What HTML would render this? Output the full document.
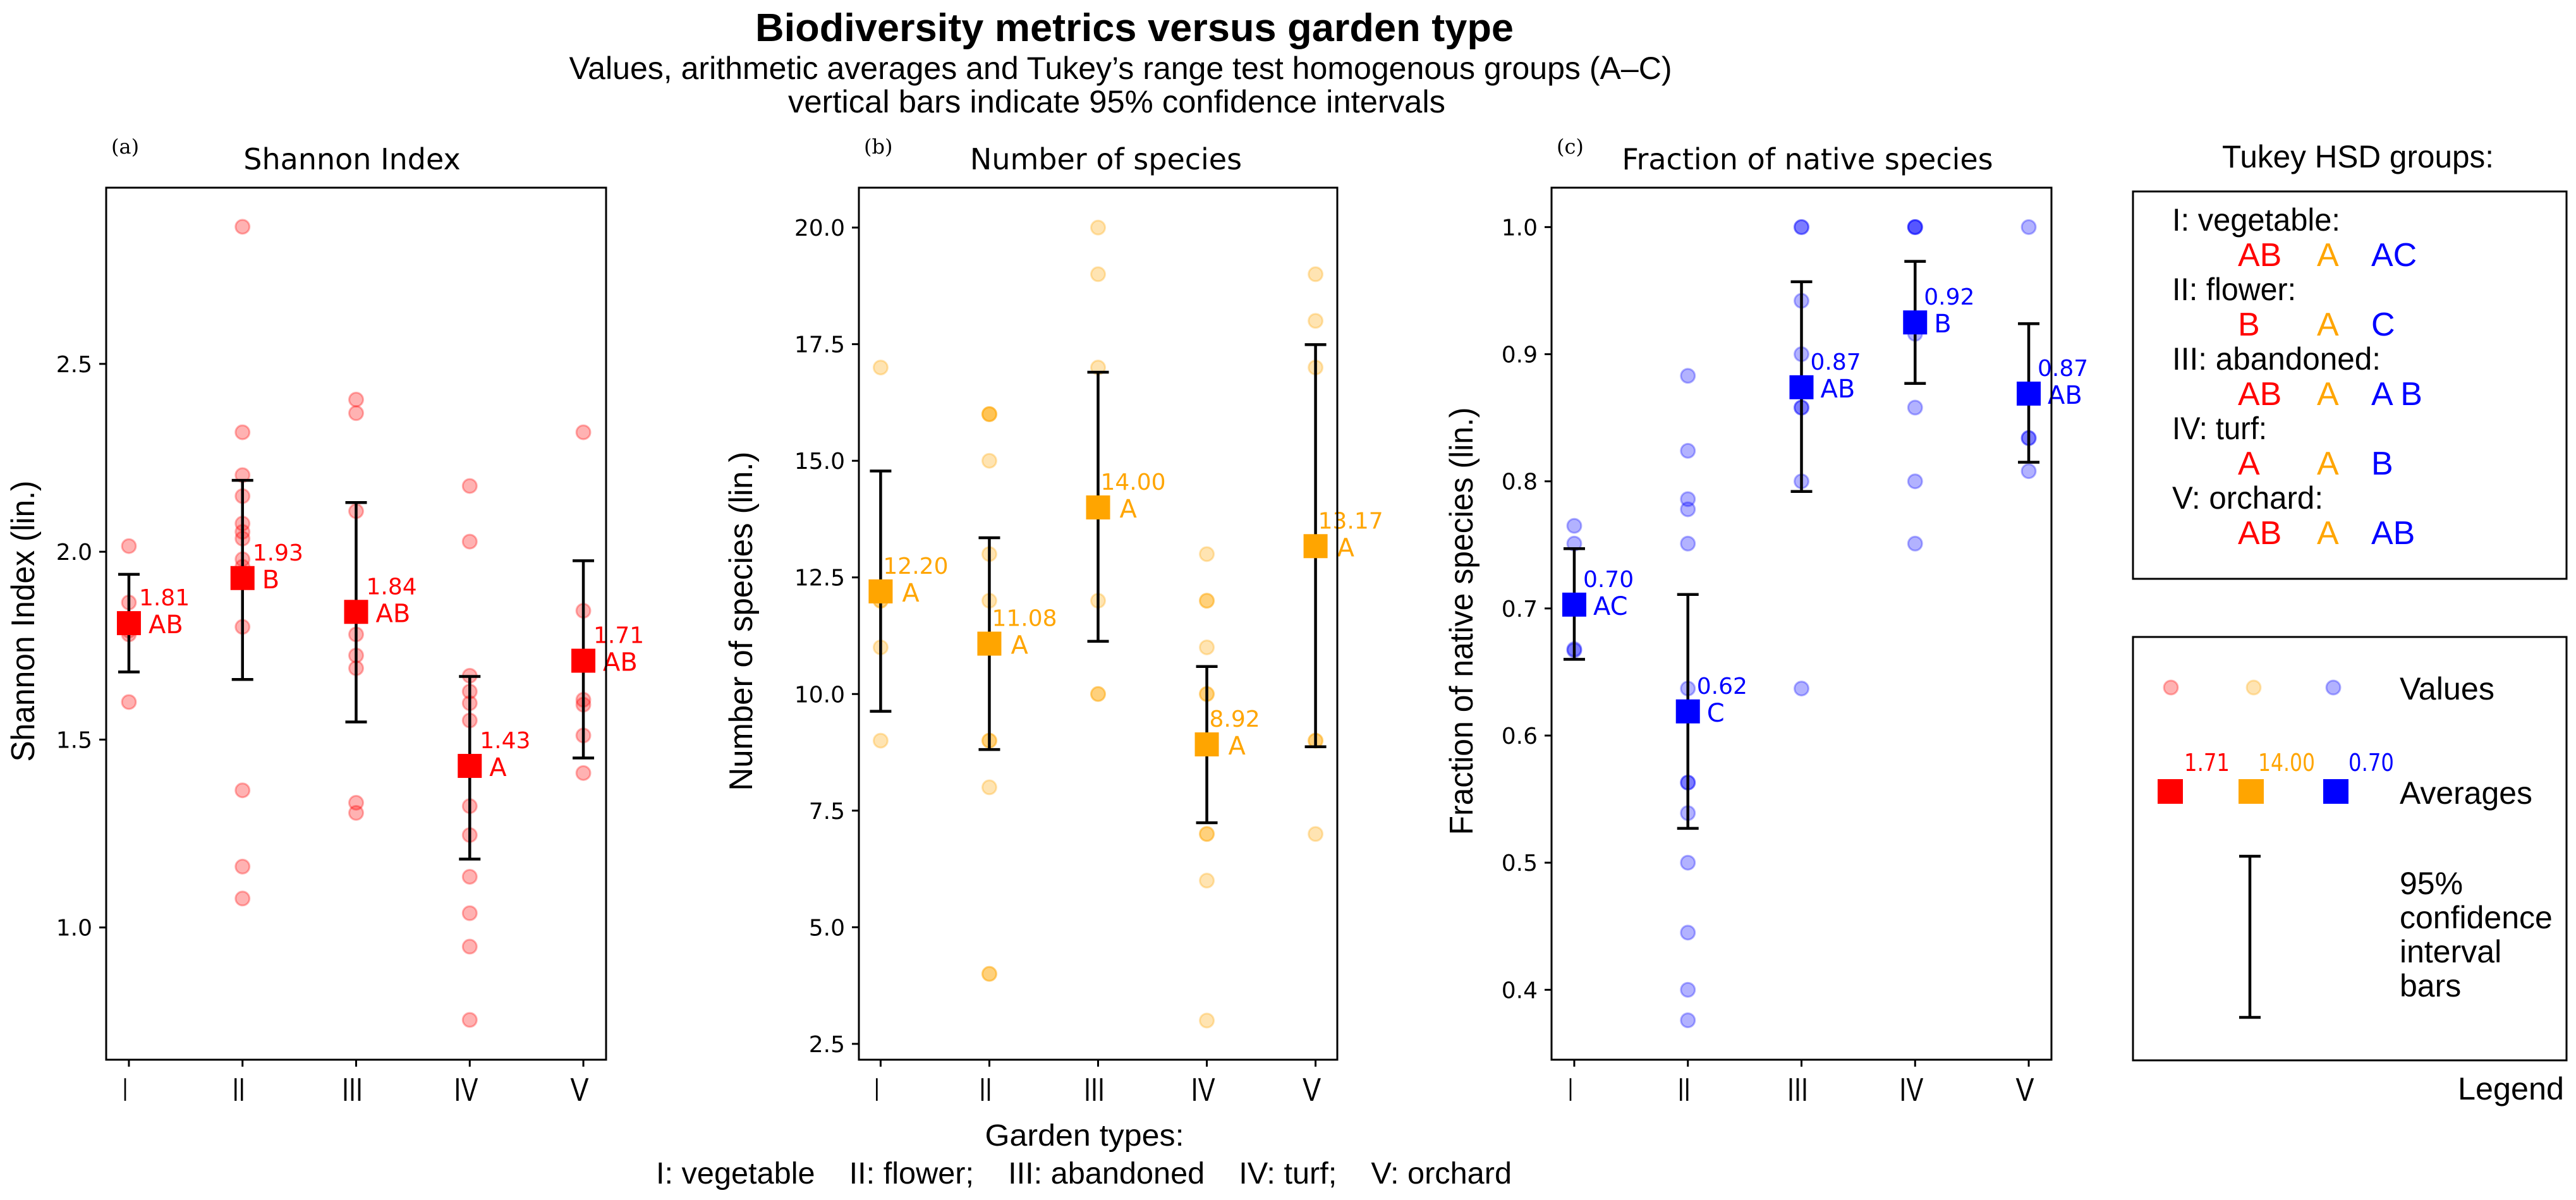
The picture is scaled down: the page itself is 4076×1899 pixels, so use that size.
<!DOCTYPE html>
<html><head><meta charset="utf-8"><style>
html,body{margin:0;padding:0;background:#fff;}
svg{display:block;}
</style></head><body>
<svg id="fig" xmlns="http://www.w3.org/2000/svg" width="4076" height="1899" viewBox="0 0 4076 1899">
<rect x="0" y="0" width="4076" height="1899" fill="#fff"/>
<g font-family="Liberation Sans, sans-serif" fill="#000">
<text x="1795" y="65" font-size="62" font-weight="bold" text-anchor="middle" textLength="1200" lengthAdjust="spacingAndGlyphs">Biodiversity metrics versus garden type</text>
<text x="1773" y="125" font-size="50" text-anchor="middle" textLength="1745" lengthAdjust="spacingAndGlyphs">Values, arithmetic averages and Tukey’s range test homogenous groups (A–C)</text>
<text x="1767" y="178" font-size="50" text-anchor="middle" textLength="1040" lengthAdjust="spacingAndGlyphs">vertical bars indicate 95% confidence intervals</text>
<text x="1716" y="1813" font-size="48" text-anchor="middle" textLength="315" lengthAdjust="spacingAndGlyphs">Garden types:</text>
<text x="1715" y="1873" font-size="48" text-anchor="middle" textLength="1354" lengthAdjust="spacingAndGlyphs" style="white-space:pre" xml:space="preserve">I: vegetable    II: flower;    III: abandoned    IV: turf;    V: orchard</text>
</g>
<g id="panels"></g>
<g id="legend" font-family="Liberation Sans, sans-serif">
<text x="3731" y="265" font-size="50" text-anchor="middle" textLength="430" lengthAdjust="spacingAndGlyphs">Tukey HSD groups:</text>
<rect x="3375" y="303" width="686" height="613" fill="none" stroke="#000" stroke-width="3"/>
<rect x="3375" y="1008" width="686" height="670" fill="none" stroke="#000" stroke-width="3"/>
<text x="4057" y="1740" font-size="50" text-anchor="end" textLength="168" lengthAdjust="spacingAndGlyphs">Legend</text>
</g>
</svg>
<script>
// ---- data ----
const categories = ['I','II','III','IV','V'];
const shannonValues = [
  [2.015,1.865,1.79,1.78,1.60],
  [2.865,2.318,2.204,2.148,2.075,2.053,2.035,1.98,1.96,1.80,1.365,1.162,1.077],
  [2.405,2.369,2.108,1.78,1.724,1.69,1.332,1.305],
  [2.175,2.027,1.67,1.628,1.597,1.551,1.323,1.246,1.135,1.038,0.949,0.754],
  [2.318,1.843,1.606,1.593,1.511,1.411]
];
const shannonMeans = [1.81,1.93,1.84,1.43,1.71];
const shannonCiLow = [1.68,1.66,1.547,1.182,1.451];
const shannonCiHigh = [1.94,2.19,2.131,1.668,1.976];
const shannonGroups = ['AB','B','AB','A','AB'];
const shannonTicks = ['1.0','1.5','2.0','2.5'];

const speciesValues = [
  [17,12,12,11,9],
  [16,16,16,15,13,12,9,9,8,4,4],
  [20,19,17,14,12,10,10],
  [13,12,12,11,10,10,9,7,7,6,3],
  [19,18,17,9,9,7]
];
const speciesMeans = [12.20,11.08,14.00,8.92,13.17];
const speciesCiLow = [9.63,8.81,11.13,7.24,8.87];
const speciesCiHigh = [14.78,13.35,16.9,10.59,17.49];
const speciesGroups = ['A','A','A','A','A'];
const speciesTicks = ['2.5','5.0','7.5','10.0','12.5','15.0','17.5','20.0'];

const nativeValues = [
  [0.765,0.751,0.668,0.667],
  [0.883,0.824,0.786,0.778,0.751,0.637,0.563,0.563,0.539,0.5,0.445,0.40,0.376],
  [1.0,1.0,0.942,0.90,0.858,0.858,0.80,0.637],
  [1.0,1.0,1.0,0.916,0.858,0.80,0.751],
  [1.0,0.834,0.834,0.808]
];
const nativeMeans = [0.70,0.62,0.87,0.92,0.87];
const nativeMeansPos = [0.703,0.619,0.874,0.925,0.869];
const nativeCiLow = [0.66,0.527,0.792,0.877,0.815];
const nativeCiHigh = [0.747,0.711,0.957,0.973,0.924];
const nativeGroups = ['AC','C','AB','B','AB'];
const nativeTicks = ['0.4','0.5','0.6','0.7','0.8','0.9','1.0'];

const tukeyLabels = ['I: vegetable:','II: flower:','III: abandoned:','IV: turf:','V: orchard:'];
const tukeyRed = ['AB','B','AB','A','AB'];
const tukeyOrange = ['A','A','A','A','A'];
const tukeyBlue = ['AC','C','A B','B','AB'];

// ---- drawing ----
const NS='http://www.w3.org/2000/svg';
function mk(tag, attrs, parent){
  const e=document.createElementNS(NS,tag);
  for(const k in attrs) e.setAttribute(k,attrs[k]);
  parent.appendChild(e); return e;
}
const root=document.getElementById('panels');
const romanWidth={'I':8,'II':20,'III':33,'IV':38,'V':29};

function panel(cfg){
  const g=mk('g',{},root);
  
  
  const L=cfg.left,R=cfg.right,T=297,B=1677;
  const xs=v=>L+(v+0.2)/4.4*(R-L);
  const ys=v=>B-(v-cfg.ymin)/(cfg.ymax-cfg.ymin)*(B-T);
  cfg.ticks.forEach(t=>{
    const y=ys(parseFloat(t));
    const tk=mk('line',{x1:L-11,x2:L,y1:y,y2:y,stroke:'#000','stroke-width':3},g);
    
    
    const tx=mk('text',{x:L-22,y:y+13,'font-size':36,'font-family':'DejaVu Sans, sans-serif','text-anchor':'end'},g);
    
    
    tx.textContent=t;
  });
  categories.forEach((c,i)=>{
    const x=xs(i);
    const tk=mk('line',{x1:x,x2:x,y1:B,y2:B+11,stroke:'#000','stroke-width':3},g);
    
    
    const tx=mk('text',{x:x-6,y:1742,'font-size':52,'font-family':'Liberation Sans, sans-serif','text-anchor':'middle',textLength:romanWidth[c],lengthAdjust:'spacingAndGlyphs'},g);
    
    
    tx.textContent=c;
  });
  cfg.values.forEach((arr,i)=>{
    arr.forEach(v=>{
      const p=mk('circle',{cx:xs(i),cy:ys(v),r:11,fill:cfg.color,'fill-opacity':0.3,stroke:cfg.color,'stroke-opacity':0.3,'stroke-width':3},g);
      
      
    });
  });
  categories.forEach((c,i)=>{
    const x=xs(i),y1=ys(cfg.lo[i]),y2=ys(cfg.hi[i]);
    const eb=mk('path',{d:`M${x},${y1}V${y2}M${x-17},${y1}H${x+17}M${x-17},${y2}H${x+17}`,stroke:'#000','stroke-width':4.5,fill:'none'},g);
    
    
  });
  categories.forEach((c,i)=>{
    const x=xs(i),y=ys(cfg.meanPos[i]);
    const sq=mk('rect',{x:x-19,y:y-19,width:38,height:38,fill:cfg.color},g);
    
    
    const t1=mk('text',{x:x+cfg.numDx,y:y-28,'font-size':36,'font-family':'DejaVu Sans, sans-serif',fill:cfg.color},g);
    
    
    t1.textContent=cfg.means[i].toFixed(2);
    const t2=mk('text',{x:x+cfg.grpDx,y:y+16,'font-size':40,'font-family':'DejaVu Sans, sans-serif',fill:cfg.color},g);
    
    
    t2.textContent=cfg.groups[i];
  });
  const fr=mk('rect',{x:L,y:T,width:R-L,height:B-T,fill:'none',stroke:'#000','stroke-width':3},g);
  
  
  const tt=mk('text',{x:cfg.titleX,y:268,'font-size':46,'font-family':'DejaVu Sans, sans-serif','text-anchor':'middle'},g);
  
  
  tt.textContent=cfg.title;
  const tl=mk('text',{x:L+8,y:243,'font-size':32,'font-family':'DejaVu Serif, serif'},g);
  
  
  tl.textContent=cfg.letter;
  const yl=mk('text',{x:0,y:0,'font-size':52,'font-family':'Liberation Sans, sans-serif','text-anchor':'middle',transform:`translate(${cfg.ylabX},983) rotate(-90)`,textLength:cfg.ylabLen,lengthAdjust:'spacingAndGlyphs'},g);
  
  
  yl.textContent=cfg.ylab;
}

panel({name:'shannon-panel',left:168,right:959,ymin:0.648,ymax:2.969,ticks:shannonTicks,values:shannonValues,means:shannonMeans,meanPos:shannonMeans,lo:shannonCiLow,hi:shannonCiHigh,groups:shannonGroups,color:'#ff0000',title:'Shannon Index',titleX:557,letter:'(a)',ylab:'Shannon Index (lin.)',ylabX:54,ylabLen:445,numDx:16,grpDx:31});
panel({name:'species-panel',left:1359,right:2116,ymin:2.16,ymax:20.855,ticks:speciesTicks,values:speciesValues,means:speciesMeans,meanPos:speciesMeans,lo:speciesCiLow,hi:speciesCiHigh,groups:speciesGroups,color:'#ffa500',title:'Number of species',titleX:1750,letter:'(b)',ylab:'Number of species (lin.)',ylabX:1190,ylabLen:537,numDx:4,grpDx:34});
panel({name:'native-panel',left:2455,right:3246,ymin:0.345,ymax:1.031,ticks:nativeTicks,values:nativeValues,means:nativeMeans,meanPos:nativeMeansPos,lo:nativeCiLow,hi:nativeCiHigh,groups:nativeGroups,color:'#0000ff',title:'Fraction of native species',titleX:2860,letter:'(c)',ylab:'Fraction of native species (lin.)',ylabX:2330,ylabLen:677,numDx:14,grpDx:30});

// ---- legend ----
const lg=document.getElementById('legend');
const tukeyLabelWidths=[266,196,330,150,239];
tukeyLabels.forEach((lab,i)=>{
  const y=365+i*110;
  const t=mk('text',{x:3437,y:y,'font-size':50,textLength:tukeyLabelWidths[i],lengthAdjust:'spacingAndGlyphs'},lg);
  
  
  t.textContent=lab;
  [[tukeyRed,'#ff0000',3541],[tukeyOrange,'#ffa500',3666],[tukeyBlue,'#0000ff',3752]].forEach(([arr,col,x])=>{
    const g=mk('text',{x:x,y:y+56,'font-size':52,fill:col},lg);
    
    
    g.textContent=arr[i];
  });
});
const legCols=['#ff0000','#ffa500','#0000ff'];
const legPtX=[3435,3566,3692];
const legSqX=[3434,3562,3696];
const legNum=['1.71','14.00','0.70'];
const legNumX=[3456,3573,3716];
legCols.forEach((c,i)=>{
  const p=mk('circle',{cx:legPtX[i],cy:1088,r:11,fill:c,'fill-opacity':0.3,stroke:c,'stroke-opacity':0.3,'stroke-width':3},lg);
  
  
  const s=mk('rect',{x:legSqX[i]-20,y:1233,width:40,height:39,fill:c},lg);
  
  
  const n=mk('text',{x:legNumX[i],y:1220,'font-size':38,'font-family':'DejaVu Sans, sans-serif',fill:c,textLength:legNum[i].length*18,lengthAdjust:'spacingAndGlyphs'},lg);
  
  
  n.textContent=legNum[i];
});
const lt=[['Values',1107,150],['Averages',1272,210],['95%',1415,0],['confidence',1469,0],['interval',1523,0],['bars',1577,0]];
lt.forEach(([s,y,w])=>{
  const a={x:3797,y:y,'font-size':50};
  if(w){a.textLength=w;a.lengthAdjust='spacingAndGlyphs';}
  const t=mk('text',a,lg);
  
  
  t.textContent=s;
});
const ci=mk('path',{d:'M3560,1355V1610M3543,1355H3577M3543,1610H3577',stroke:'#000','stroke-width':4.5,fill:'none'},lg);


</script>
</body></html>
